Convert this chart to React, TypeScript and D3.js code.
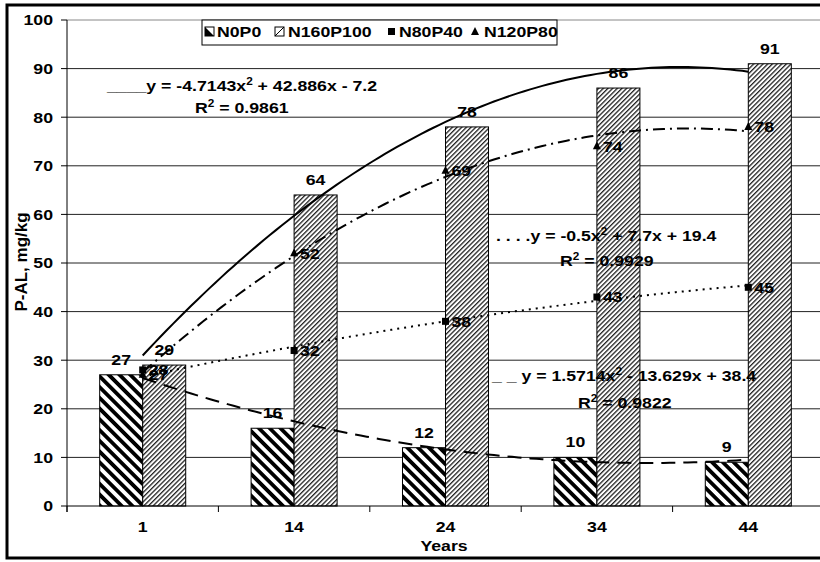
import type { ReactNode } from 'react';
import { line, range, scaleBand, scaleLinear } from 'd3';

const years = ['1', '14', '24', '34', '44'];
const n0p0 = [27, 16, 12, 10, 9];
const n160p100 = [29, 64, 78, 86, 91];
const n80p40 = [28, 32, 38, 43, 45];
const n120p80 = [27, 52, 69, 74, 78];
const yTicks = [0, 10, 20, 30, 40, 50, 60, 70, 80, 90, 100];

// polynomial trend coefficients as printed on the chart: a*x^2 + b*x + c
const trendN160P100 = [-4.7143, 42.886, -7.2];
const trendN80P40 = [-0.5, 7.7, 19.4];
const trendN0P0 = [1.5714, -13.629, 38.4];

const width = 820;
const height = 562;
const plot = { left: 67, right: 824, top: 20, bottom: 506 };
const font = '"Liberation Sans", Arial, sans-serif';
// the original chart is stretched sideways, so the text is too
const stretch = 1.18;

// least squares fit of a 2nd order polynomial over x = 1..n (no equation shown for this one)
function quadFit(values: number[]) {
  const n = values.length;
  const mid = (n + 1) / 2;
  const t = values.map((_, i) => i + 1 - mid);
  const st2 = t.reduce((s, v) => s + v * v, 0);
  const st4 = t.reduce((s, v) => s + v ** 4, 0);
  const sy = values.reduce((s, v) => s + v, 0);
  const sty = values.reduce((s, v, i) => s + t[i] * v, 0);
  const st2y = values.reduce((s, v, i) => s + t[i] * t[i] * v, 0);
  const b = sty / st2;
  const c = (n * st2y - st2 * sy) / (n * st4 - st2 * st2);
  const a = (sy - c * st2) / n;
  return (x: number) => a + b * (x - mid) + c * (x - mid) ** 2;
}

const poly = (k: number[]) => (x: number) => k[0] * x * x + k[1] * x + k[2];

type TProps = {
  x: number;
  y: number;
  anchor?: 'start' | 'middle' | 'end';
  size?: number;
  dy?: string;
  children: ReactNode;
};

function T({ x, y, anchor = 'start', size = 15, dy, children }: TProps) {
  return (
    <text
      transform={`translate(${x},${y}) scale(${stretch},1)`}
      dy={dy}
      textAnchor={anchor}
      fontFamily={font}
      fontWeight={700}
      fontSize={size}
    >
      {children}
    </text>
  );
}

const sup = (s: string) => (
  <>
    <tspan dy={-6} fontSize={10}>{s}</tspan>
    <tspan dy={6}> </tspan>
  </>
);

export default function App() {
  const x0 = scaleBand<string>().domain(years).range([plot.left, plot.right]);
  const x1 = scaleBand<string>().domain(['N0P0', 'N160P100']).range([0, x0.bandwidth()]).paddingOuter(0.76);
  const y = scaleLinear().domain([0, 100]).range([plot.bottom, plot.top]);
  const center = (i: number) => (x0(years[i]) ?? 0) + x0.bandwidth() / 2;
  const xTrend = scaleLinear().domain([1, years.length]).range([center(0), center(years.length - 1)]);

  const samples = range(1, years.length + 0.001, 0.04);
  const trendPath = (f: (x: number) => number) =>
    line<number>().x(d => xTrend(d)).y(d => y(f(d)))(samples) ?? '';

  const trends = [
    { d: trendPath(poly(trendN160P100)), dash: undefined },
    { d: trendPath(poly(trendN80P40)), dash: '2 5' },
    { d: trendPath(poly(trendN0P0)), dash: '14 8' },
    { d: trendPath(quadFit(n120p80)), dash: '12 5 2 5' },
  ];

  const bw = x1.bandwidth();

  return (
    <svg width={width} height={height} style={{ position: 'absolute', left: 0, top: 0 }} fill="#000">
      <defs>
        <pattern id="hatch-a" patternUnits="userSpaceOnUse" width="7.6" height="7.6" patternTransform="rotate(-45)">
          <rect width="7.6" height="7.6" fill="#fff" />
          <rect width="3.8" height="7.6" fill="#000" />
        </pattern>
        <pattern id="hatch-b" patternUnits="userSpaceOnUse" width="3.3" height="3.3" patternTransform="rotate(45)">
          <rect width="3.3" height="3.3" fill="#fff" />
          <rect width="1.3" height="3.3" fill="#222" />
        </pattern>
      </defs>
      <rect x={0} y={0} width={width} height={height} fill="#fff" />
      <rect x={7} y={5} width={830} height={553} fill="none" stroke="#000" strokeWidth={3} />

      {yTicks.map(t => (
        <g key={t}>
          {t > 0 && (
            <line x1={plot.left} x2={plot.right} y1={y(t)} y2={y(t)} stroke={t === 100 ? '#888' : '#222'} strokeWidth={1} />
          )}
          <line x1={plot.left - 6} x2={plot.left} y1={y(t)} y2={y(t)} stroke="#000" />
          <T x={53} y={y(t)} dy="0.36em" anchor="end">{t}</T>
        </g>
      ))}
      <line x1={plot.left} x2={plot.left} y1={plot.top} y2={plot.bottom + 6} stroke="#000" />

      {years.map((yr, i) => {
        const gx = x0(yr) ?? 0;
        const ax = gx + (x1('N0P0') ?? 0);
        const bx = gx + (x1('N160P100') ?? 0);
        return (
          <g key={yr}>
            <rect x={ax} y={y(n0p0[i])} width={bw} height={plot.bottom - y(n0p0[i])} fill="url(#hatch-a)" stroke="#000" />
            <rect x={bx} y={y(n160p100[i])} width={bw} height={plot.bottom - y(n160p100[i])} fill="url(#hatch-b)" stroke="#000" />
          </g>
        );
      })}

      <line x1={plot.left} x2={plot.right} y1={plot.bottom} y2={plot.bottom} stroke="#000" />
      {years.map((yr, i) => (
        <g key={yr}>
          <line x1={x0(yr) ?? 0} x2={x0(yr) ?? 0} y1={plot.bottom} y2={plot.bottom + 6} stroke="#000" />
          <T x={center(i)} y={532} anchor="middle">{yr}</T>
        </g>
      ))}

      {trends.map((t, i) => (
        <path key={i} d={t.d} fill="none" stroke="#000" strokeWidth={2} strokeDasharray={t.dash} />
      ))}

      {years.map((yr, i) => {
        const gx = x0(yr) ?? 0;
        const ax = gx + (x1('N0P0') ?? 0) + bw / 2;
        const bx = gx + (x1('N160P100') ?? 0) + bw / 2;
        const cx = center(i);
        const ty = y(n120p80[i]);
        return (
          <g key={yr}>
            <T x={ax} y={y(n0p0[i]) - 10} anchor="middle">{n0p0[i]}</T>
            <T x={bx} y={y(n160p100[i]) - 10} anchor="middle">{n160p100[i]}</T>
            <rect x={cx - 3.5} y={y(n80p40[i]) - 3.5} width={7} height={7} fill="#000" />
            <path d={`M${cx},${ty - 5}L${cx + 4},${ty + 3}L${cx - 4},${ty + 3}Z`} fill="#000" />
            <T x={cx + 6} y={y(n80p40[i])} dy="0.36em">{n80p40[i]}</T>
            <T x={cx + 6} y={ty} dy="0.36em">{n120p80[i]}</T>
          </g>
        );
      })}

      <T x={107} y={91}>____y = -4.7143x{sup('2')}+ 42.886x - 7.2</T>
      <T x={195} y={113}>R{sup('2')}= 0.9861</T>
      <T x={496} y={241}>. . . .y = -0.5x{sup('2')}+ 7.7x + 19.4</T>
      <T x={560} y={266}>R{sup('2')}= 0.9929</T>
      <T x={492} y={381}>_ _ y = 1.5714x{sup('2')}- 13.629x + 38.4</T>
      <T x={578} y={408}>R{sup('2')}= 0.9822</T>

      <g>
        <rect x={202} y={20} width={355} height={25} fill="#fff" stroke="#000" />
        <rect x={205} y={27} width={9} height={9} fill="#fff" stroke="#000" />
        <path d="M205,27L214,36L205,36Z" fill="#000" />
        <T x={217} y={37}>N0P0</T>
        <rect x={275} y={27} width={9} height={9} fill="#fff" stroke="#000" />
        <line x1={275} y1={36} x2={284} y2={27} stroke="#000" />
        <T x={288} y={37}>N160P100</T>
        <rect x={388} y={28} width={7} height={7} fill="#000" />
        <T x={399} y={37}>N80P40</T>
        <path d="M475,27L479,35L471,35Z" fill="#000" />
        <T x={484} y={37}>N120P80</T>
      </g>

      <T x={444} y={551} anchor="middle">Years</T>
      <text
        transform="translate(27,262) rotate(-90)"
        textAnchor="middle"
        fontFamily={font}
        fontWeight={700}
        fontSize={17}
      >
        P-AL, mg/kg
      </text>
    </svg>
  );
}
